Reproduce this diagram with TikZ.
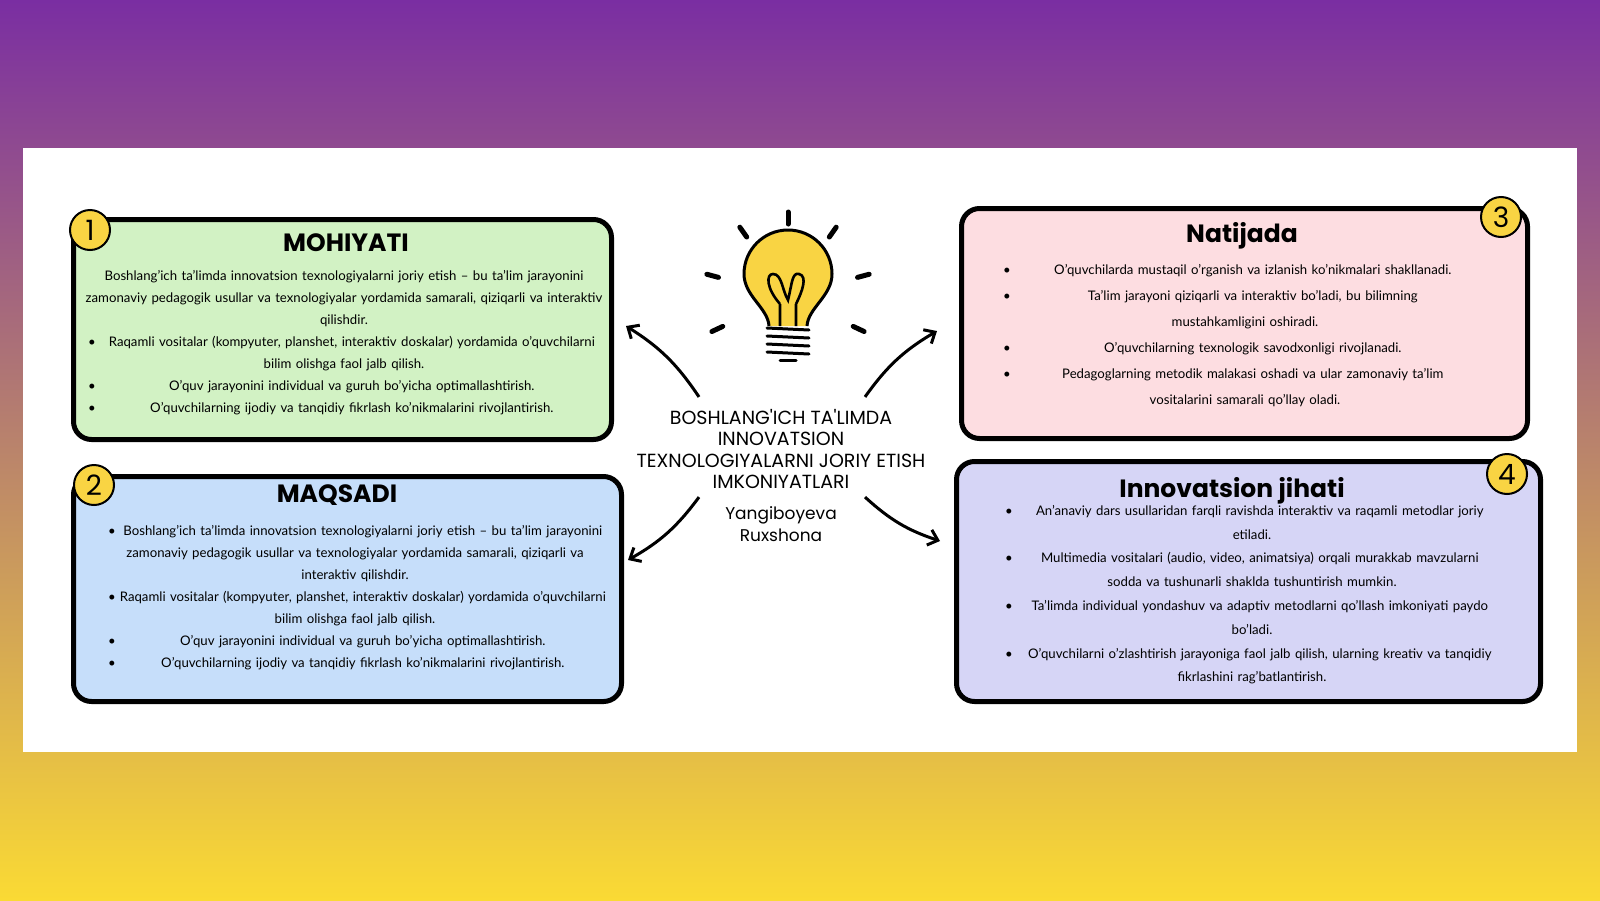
\documentclass[tikz,border=0pt]{standalone}
\usepackage{fontspec}
\setmainfont{Lato}
\newfontfamily\headfont{Poppins}
\usetikzlibrary{arrows.meta,positioning}
\definecolor{bgtop}{HTML}{7A2EA2}
\definecolor{bgmid}{HTML}{D08C68}
\definecolor{bgbot}{HTML}{FADA34}
\definecolor{boxgreen}{HTML}{D2F2C4}
\definecolor{boxblue}{HTML}{C6DEFA}
\definecolor{boxpink}{HTML}{FDDDE1}
\definecolor{boxlav}{HTML}{D6D5F6}
\definecolor{bulbyellow}{HTML}{F9D443}
\newcommand\bln[1]{\hbox to\linewidth{\hspace{8pt}\textbullet\hfil #1\hfil}}
\newcommand\ctl[1]{\hbox to\linewidth{\hfil #1\hfil}}
\begin{document}
\begin{tikzpicture}[x=1pt,y=-1pt,
    card/.style={draw=black, line width=5pt, rounded corners=18pt, anchor=north west},
    heading/.style={font=\headfont\fontsize{25}{28}\selectfont\bfseries},
    body/.style={text width=#1, font=\fontsize{13.2}{22}\selectfont, inner sep=0pt, anchor=north},
    badge/.style={circle, draw=black, line width=2pt, fill=bulbyellow, minimum size=40pt, inner sep=0pt, font=\headfont\fontsize{28}{28}\selectfont},
    ray/.style={line width=5pt, line cap=round},
    link/.style={line width=3pt, -{Straight Barb[length=9pt,width=16pt,line width=3pt]}}]
    \useasboundingbox (0,0) rectangle (1600,900);
    % background
    \shade[top color=bgtop, middle color=bgmid, bottom color=bgbot] (0,0) rectangle (1600,900);
    \fill[white] (23,148) rectangle (1577,752);
    % cards
    \node[card, fill=boxgreen, minimum width=538pt, minimum height=220pt] (box1) at (71,217) {};
    \node[card, fill=boxblue, minimum width=548pt, minimum height=225pt] (box2) at (71,474) {};
    \node[card, fill=boxpink, minimum width=566pt, minimum height=230pt] (box3) at (959,206) {};
    \node[card, fill=boxlav, minimum width=584pt, minimum height=240pt] (box4) at (954,459) {};
    \node[badge] (num1) at (90,230) {1};
    \node[badge] (num2) at (94,485) {2};
    \node[badge] (num3) at (1501,217) {3};
    \node[badge] (num4) at (1507,474) {4};
    % headings
    \node[heading] (head1) at (346,243) {MOHIYATI};
    \node[heading] (head2) at (337,495) {MAQSADI};
    \node[heading] (head3) at (1242,236) {Natijada};
    \node[heading] (head4) at (1232,491) {Innovatsion jihati};
    % texts
    \node[body=528pt] (text1) at (344,270) {%
        \ctl{Boshlang'ich ta'limda innovatsion texnologiyalarni joriy etish -- bu ta'lim jarayonini}
        \ctl{zamonaviy pedagogik usullar va texnologiyalar yordamida samarali, qiziqarli va interaktiv}
        \ctl{qilishdir.}
        \bln{Raqamli vositalar (kompyuter, planshet, interaktiv doskalar) yordamida o'quvchilarni}
        \ctl{bilim olishga faol jalb qilish.}
        \bln{O'quv jarayonini individual va guruh bo'yicha optimallashtirish.}
        \bln{O'quvchilarning ijodiy va tanqidiy fikrlash ko'nikmalarini rivojlantirish.}};
    \node[body=510pt] (text2) at (355,525) {%
        \bln{Boshlang'ich ta'limda innovatsion texnologiyalarni joriy etish -- bu ta'lim jarayonini}
        \ctl{zamonaviy pedagogik usullar va texnologiyalar yordamida samarali, qiziqarli va}
        \ctl{interaktiv qilishdir.}
        \bln{Raqamli vositalar (kompyuter, planshet, interaktiv doskalar) yordamida o'quvchilarni}
        \ctl{bilim olishga faol jalb qilish.}
        \bln{O'quv jarayonini individual va guruh bo'yicha optimallashtirish.}
        \bln{O'quvchilarning ijodiy va tanqidiy fikrlash ko'nikmalarini rivojlantirish.}};
    \node[body=500pt, font=\fontsize{13.2}{26}\selectfont] (text3) at (1245,264) {%
        \bln{O'quvchilarda mustaqil o'rganish va izlanish ko'nikmalari shakllanadi.}
        \bln{Ta'lim jarayoni qiziqarli va interaktiv bo'ladi, bu bilimning}
        \ctl{mustahkamligini oshiradi.}
        \bln{O'quvchilarning texnologik savodxonligi rivojlanadi.}
        \bln{Pedagoglarning metodik malakasi oshadi va ular zamonaviy ta'lim}
        \ctl{vositalarini samarali qo'llay oladi.}};
    \node[body=510pt, font=\fontsize{13.2}{23.8}\selectfont] (text4) at (1252,505) {%
        \bln{An'anaviy dars usullaridan farqli ravishda interaktiv va raqamli metodlar joriy}
        \ctl{etiladi.}
        \bln{Multimedia vositalari (audio, video, animatsiya) orqali murakkab mavzularni}
        \ctl{sodda va tushunarli shaklda tushuntirish mumkin.}
        \bln{Ta'limda individual yondashuv va adaptiv metodlarni qo'llash imkoniyati paydo}
        \ctl{bo'ladi.}
        \bln{O'quvchilarni o'zlashtirish jarayoniga faol jalb qilish, ularning kreativ va tanqidiy}
        \ctl{fikrlashini rag'batlantirish.}};
    % centre
    \node[align=center, font=\headfont\fontsize{19}{21.5}\selectfont, inner sep=2pt] (title) at (781,449)
        {BOSHLANG'ICH TA'LIMDA\\INNOVATSION\\TEXNOLOGIYALARNI JORIY ETISH\\IMKONIYATLARI};
    \node[align=center, font=\headfont\fontsize{17}{22}\selectfont, below=12pt of title] (author) {Yangiboyeva\\Ruxshona};
    \coordinate (tip1) at (626,326);
    \coordinate (tip2) at (628,560);
    \coordinate (tip3) at (937,331);
    \coordinate (tip4) at (940,541);
    \draw[link] ([xshift=-82pt,yshift=10pt]title.north) to[bend right=12] (tip1);
    \draw[link] ([xshift=-82pt,yshift=-6pt]title.south) to[bend left=12] (tip2);
    \draw[link] ([xshift=84pt,yshift=10pt]title.north) to[bend left=12] (tip3);
    \draw[link] ([xshift=84pt,yshift=-6pt]title.south) to[bend right=12] (tip4);
    % bulb
    \begin{scope}[shift={(788,296)}]
        \fill[bulbyellow] (-19,30) .. controls (-20,12) and (-44,0) .. (-44,-22)
            arc[start angle=180, end angle=360, radius=44]
            .. controls (44,0) and (20,12) .. (19,30) -- cycle;
        \draw[line width=3pt, line join=round] (-19,30) .. controls (-20,12) and (-44,0) .. (-44,-22)
            arc[start angle=180, end angle=360, radius=44]
            .. controls (44,0) and (20,12) .. (19,30);
        \draw[line width=2.6pt] (-8,30) -- (-8,8) (8,30) -- (8,8)
            (-8,8) .. controls (-22,-8) and (-22,-22) .. (-15,-22) .. controls (-6,-22) and (-6,-6) .. (0,4)
            .. controls (4,-12) and (4,-24) .. (11,-22) .. controls (20,-20) and (14,-4) .. (8,8);
        \foreach \yy in {32,40,48,56} \draw[line width=3pt, line cap=round] (-21,\yy) -- (21,\yy+2);
        \draw[line width=3pt, line cap=round] (-8,64) -- (8,64);
        \foreach \ang in {-90,-55,-125,-15,-165,25,155}
            \draw[ray] (\ang:72) -- (\ang:84);
    \end{scope}
\end{tikzpicture}
\end{document}
